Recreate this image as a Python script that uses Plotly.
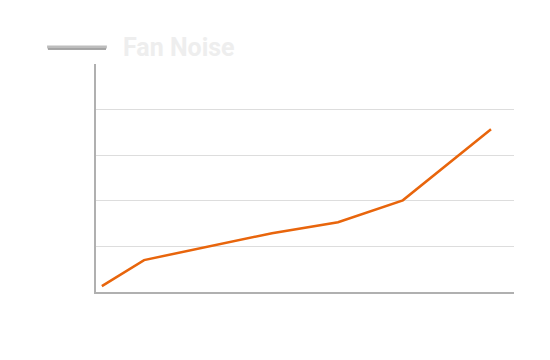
import plotly.graph_objects as go

# Data
x_values = [1.4, 11.5, 42.1, 57.9, 73.4, 94.5]
noise = [0.13, 0.70, 1.29, 1.53, 2.01, 3.57]
series_name = "Fan Noise"

fig = go.Figure()
fig.add_trace(go.Scatter(
    x=x_values, y=noise, mode="lines", name=series_name,
    line=dict(color="#e8650c", width=2.5), showlegend=False,
))

fig.update_layout(
    width=550, height=360,
    margin=dict(l=96, r=36, t=64, b=68),
    paper_bgcolor="white", plot_bgcolor="white",
    xaxis=dict(range=[0, 100], showgrid=False, zeroline=False, showticklabels=False,
               showline=True, linecolor="#b0b0b0", linewidth=1.5, ticks=""),
    yaxis=dict(range=[0, 5], dtick=1, showgrid=True, gridcolor="#dddddd", gridwidth=1,
               zeroline=False, showticklabels=False, showline=True,
               linecolor="#b0b0b0", linewidth=1.5, ticks=""),
    shapes=[
        dict(type="line", xref="paper", yref="paper", x0=-0.115, x1=0.024,
             y0=1.0 + (64 - 48.8) / 228, y1=1.0 + (64 - 48.8) / 228,
             line=dict(color="#8a8a8a", width=2)),
        dict(type="line", xref="paper", yref="paper", x0=-0.117, x1=0.026,
             y0=1.0 + (64 - 47) / 228, y1=1.0 + (64 - 47) / 228,
             line=dict(color="#bdbdbd", width=3)),
    ],
    annotations=[
        dict(text="<b>" + series_name + "</b>", xref="paper", yref="paper",
             x=(121 - 96) / 418, y=1.0 + (64 - 47) / 228, xanchor="left", yanchor="middle",
             showarrow=False, font=dict(family="Roboto", size=25, color="#eeeeee")),
    ],
)

fig.write_html("out.html")
